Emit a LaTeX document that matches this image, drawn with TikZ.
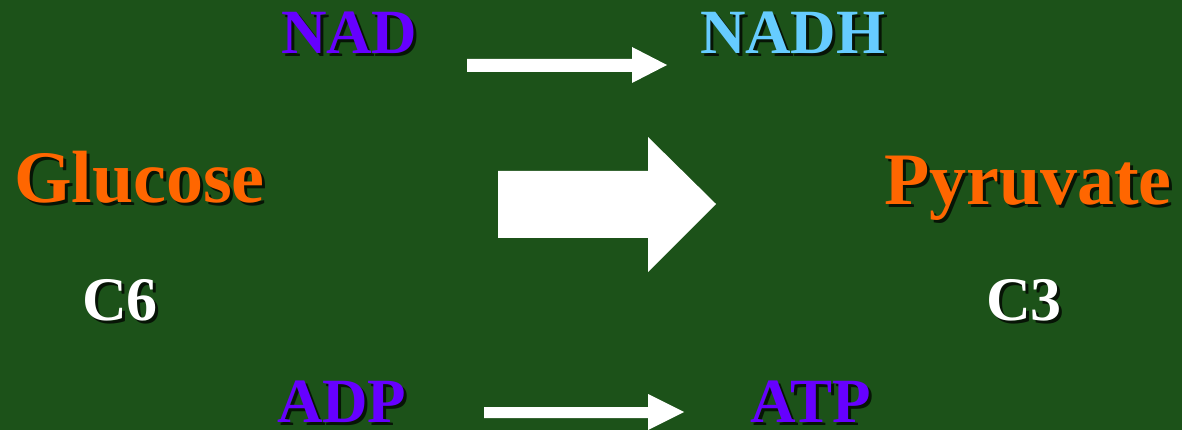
\documentclass[tikz,border=0pt]{standalone}
\usepackage{fontspec}
\setmainfont{Liberation Serif}
\definecolor{bgcol}{RGB}{28,82,25}
\definecolor{purp}{RGB}{102,0,255}
\definecolor{skyb}{RGB}{102,204,255}
\definecolor{orng}{RGB}{255,102,0}
\newcommand\shtext[5]{%
  \node[lbl, text=black, opacity=0.75, font=\fontsize{#3}{#3}\selectfont\bfseries] (#1s) at ([shift={(3,3)}]#2) {#5};
  \node[lbl, text=#4, font=\fontsize{#3}{#3}\selectfont\bfseries] (#1) at (#2) {#5};}
\tikzset{
  lbl/.style={anchor=base west, inner sep=0pt, outer sep=0pt},
  blockarrow/.style={fill=white, draw=none},
}
\begin{document}
\begin{tikzpicture}[x=1pt,y=-1pt]
\fill[bgcol] (0,0) rectangle (1182,430);
\useasboundingbox (0,0) rectangle (1182,430);
% texts
\shtext{nad}{281,54}{63}{purp}{NAD}
\shtext{nadh}{700,54}{63}{skyb}{NADH}
\shtext{glu}{14,203}{74}{orng}{Glucose}
\shtext{pyr}{884,205}{74}{orng}{Pyruvate}
\shtext{csix}{82,320}{62}{white}{C6}
\shtext{cthree}{986,320}{62}{white}{C3}
\shtext{adp}{277,422}{63}{purp}{ADP}
\shtext{atp}{750,422}{63}{purp}{ATP}
% arrows
\fill[blockarrow] (467,59) -- (632,59) -- (632,47) -- (667,65) -- (632,83) -- (632,72) -- (467,72) -- cycle;
\fill[blockarrow] (498,171) -- (648,171) -- (648,137) -- (716,204) -- (648,272) -- (648,238) -- (498,238) -- cycle;
\fill[blockarrow] (484,407) -- (648,407) -- (648,394) -- (684,412) -- (648,430) -- (648,418) -- (484,418) -- cycle;
\end{tikzpicture}
\end{document}
